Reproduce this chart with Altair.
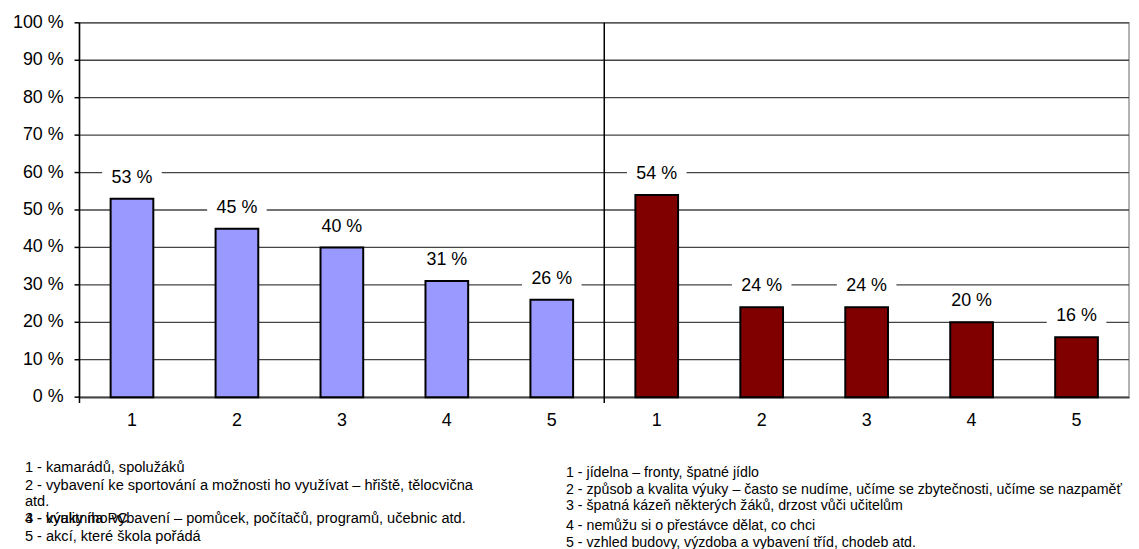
import altair as alt
import pandas as pd

# ---- data ----
left_cats = ["1", "2", "3", "4", "5"]
left_vals = [53, 45, 40, 31, 26]
right_cats = ["1", "2", "3", "4", "5"]
right_vals = [54, 24, 24, 20, 16]
y_ticks = [0, 10, 20, 30, 40, 50, 60, 70, 80, 90, 100]

left_notes = [
    "1 - kamarádů, spolužáků",
    "2 - vybavení ke sportování a možnosti ho využívat – hřiště, tělocvična",
    "atd.",
    "3 - kvalitního vybavení – pomůcek, počítačů, programů, učebnic atd.",
    "4 - výuky na PC",
    "5 - akcí, které škola pořádá",
]
right_notes = [
    "1 - jídelna – fronty, špatné jídlo",
    "2 - způsob a kvalita výuky – často se nudíme, učíme se zbytečnosti, učíme se nazpaměť",
    "3 - špatná kázeň některých žáků, drzost vůči učitelům",
    " 4 - nemůžu si o přestávce dělat, co chci",
    " 5 - vzhled budovy, výzdoba a vybavení tříd, chodeb atd.",
]

# layout (pixels, relative to plot area)
W, H = 1057, 377
left_note_y = [448, 467, 483, 500, 500, 518]
right_note_y = [453, 471, 487, 507, 524]
FONT = "Liberation Sans"

rows = []
for c, v in zip(left_cats, left_vals):
    rows.append({"key": "a" + c, "label": c, "group": "A", "value": v})
for c, v in zip(right_cats, right_vals):
    rows.append({"key": "b" + c, "label": c, "group": "B", "value": v})
df = pd.DataFrame(rows)
order = list(df["key"])
tick_df = pd.DataFrame({"t": y_ticks})
tick_df["lab"] = [f"{t} %" for t in y_ticks]

xaxis = alt.Axis(
    title=None,
    labelExpr="substring(datum.value, 1)",
    labelAngle=0,
    ticks=False,
    labelPadding=15,
    labelFontSize=18,
    labelFont=FONT,
    labelColor="black",
    domainColor="#444444",
    domainWidth=1.5,
    grid=False,
)
xscale = alt.Scale(domain=order, paddingInner=0, paddingOuter=0)
yscale = alt.Scale(domain=[0, 100], nice=False)


def X(**kw):
    return alt.X("key:N", sort=order, scale=xscale, axis=xaxis, **kw)


def Y(field="value:Q"):
    return alt.Y(field, scale=yscale, axis=None)


# y gridlines, ticks and labels from the tick list
tbase = alt.Chart(tick_df)
grid = tbase.mark_rule(color="#444444", strokeWidth=1.3).encode(
    y=Y("t:Q"), x=alt.value(0), x2=alt.value(W)
)
yticks = tbase.mark_rule(color="black", strokeWidth=1.5).encode(
    y=Y("t:Q"), x=alt.value(-5), x2=alt.value(0)
)
ylabels = tbase.mark_text(
    align="right", baseline="middle", fontSize=18, font=FONT, color="black"
).encode(y=Y("t:Q"), x=alt.value(-16), text="lab:N")

base = alt.Chart(df)

bars = base.mark_bar(width=43, stroke="black", strokeWidth=2).encode(
    x=X(),
    y=Y(),
    color=alt.Color(
        "group:N",
        scale=alt.Scale(domain=["A", "B"], range=["#9999FF", "#800000"]),
        legend=None,
    ),
)

label_bg = base.mark_point(
    shape="M-1,-0.37L1,-0.37L1,0.37L-1,0.37Z",
    filled=True,
    color="white",
    opacity=1,
    size=3600,
    yOffset=-21,
    strokeWidth=0,
).encode(x=X(), y=Y())

labels = base.mark_text(
    dy=-21, fontSize=18, font=FONT, color="black", baseline="middle"
).encode(
    x=X(),
    y=Y(),
    text=alt.Text("txt:N"),
).transform_calculate(txt="datum.value + ' %'")

div_df = pd.DataFrame({"key": ["a1", "b1"]})
dividers = alt.Chart(div_df).mark_rule(color="black", strokeWidth=1.5).encode(
    x=X(bandPosition=0),
    y=alt.value(0),
    y2=alt.value(H + 6),
)

layers = [grid, yticks, ylabels, bars, label_bg, labels, dividers]

for txt, yy in zip(left_notes, left_note_y):
    layers.append(
        alt.Chart(pd.DataFrame({"t": [txt]}))
        .mark_text(align="left", baseline="middle", fontSize=14.7, font=FONT, color="black")
        .encode(x=alt.value(-55), y=alt.value(yy), text="t:N")
    )
for txt, yy in zip(right_notes, right_note_y):
    layers.append(
        alt.Chart(pd.DataFrame({"t": [txt]}))
        .mark_text(align="left", baseline="middle", fontSize=14.3, font=FONT, color="black")
        .encode(x=alt.value(490), y=alt.value(yy), text="t:N")
    )

chart = (
    alt.layer(*layers)
    .properties(
        width=W,
        height=H,
        autosize=alt.AutoSizeParams(type="none"),
        padding={"left": 72, "top": 13, "right": 2, "bottom": 151},
        background="white",
    )
    .configure_view(stroke="#999999", strokeWidth=1.5)
)

chart.save("out.html", embed_options={"renderer": "svg", "actions": False})
